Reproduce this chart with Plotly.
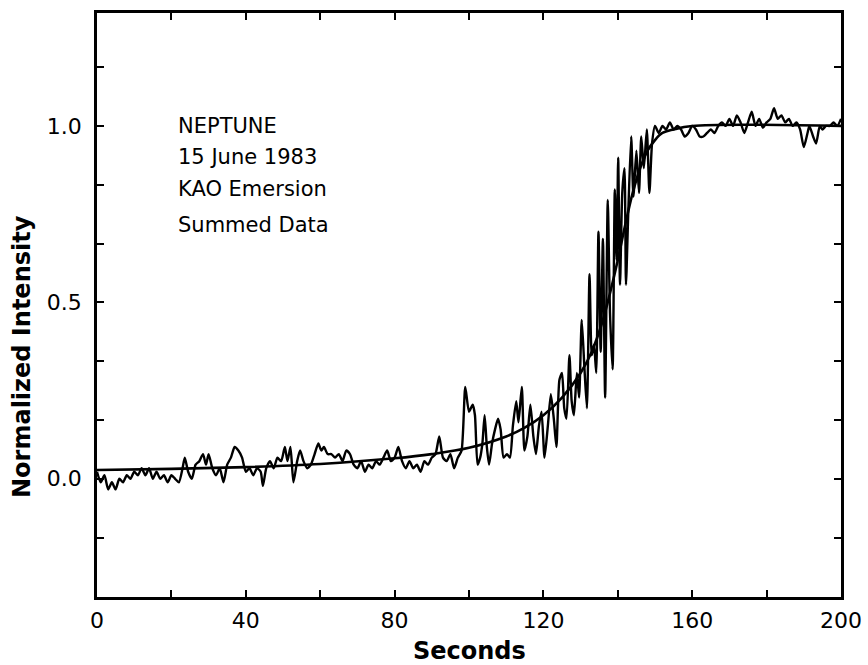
import plotly.graph_objects as go

# Observed (summed) light curve: time in seconds, normalized intensity
obs_t = [0, 1, 2, 3, 4, 5, 6, 7, 8, 9, 10, 11, 12, 13, 14, 15, 16, 17, 18, 19, 20, 21, 22, 23, 23.6,
         24.5, 25.5, 26.5, 27.5, 28.5, 29.3, 30, 31, 32, 33, 34, 35, 36, 37, 38, 39, 40, 41, 42, 43, 44,
         44.6, 45.5, 46.5, 47.5, 48.5, 49.5, 50.5, 51.2, 52, 52.8, 53.8, 54.6, 55.5, 56.5, 57.5, 58.5,
         59.5, 60.3, 61, 62, 63, 64, 65, 66, 67, 68, 69, 70, 71, 72, 73, 74, 75, 76, 77, 78, 79, 80,
         81, 82, 83, 84, 85, 86, 87, 88, 89, 90, 91, 92, 93, 94, 95, 96, 97, 98, 99, 100, 101, 101.6,
         102.3, 103, 103.6, 104.2, 104.8, 105.4, 106.2, 107, 107.8, 108.5, 109.3, 110.2, 111, 111.8,
         112.7, 113.3, 114.2, 114.9, 115.7, 116.5, 117.3, 118, 118.8, 119.5, 120.3, 121.2, 122, 122.8,
         123.5, 124.3, 125, 125.6, 126.2, 127, 127.6, 128.2, 129, 129.6, 130.3, 131, 131.7, 132.4, 133,
         133.6, 134.2, 134.8, 135.4, 136, 136.6, 137.3, 137.9, 138.6, 139.2, 139.7, 140.1, 140.6, 141.2,
         141.8, 142.2, 142.8, 143.6, 144.2, 145.0, 145.7, 146.3, 147, 147.8, 148.5, 149.2, 150, 151, 152,
         153, 154, 155, 156, 157, 158, 159, 160, 161, 162, 163, 164, 165, 166, 167, 168, 169, 170, 171,
         172, 173, 174, 175, 176, 177, 178, 179, 180, 181, 182, 183, 184, 185, 186, 187, 188, 189, 190,
         191, 191.5, 192.5, 193.3, 194.3, 195, 196, 197, 198, 199, 200]
obs_v = [0.02, -0.01, 0.01, -0.03, -0.01, -0.03, 0.0, -0.01, 0.01, 0.0, 0.02, 0.01, 0.03, 0.01, 0.03,
         0.0, 0.02, 0.0, 0.01, -0.01, 0.01, 0.0, -0.01, 0.03, 0.06,
         0.02, 0.0, 0.04, 0.05, 0.07, 0.04, 0.07, 0.03, 0.01, 0.03, -0.01, 0.04, 0.06, 0.09, 0.08, 0.06,
         0.02, 0.03, 0.01, 0.03, 0.02,
         -0.02, 0.03, 0.05, 0.03, 0.06, 0.05, 0.09, 0.05, 0.09, -0.01, 0.05, 0.08, 0.05, 0.03, 0.04, 0.07,
         0.10, 0.08, 0.09, 0.07, 0.07, 0.06, 0.07, 0.05, 0.08, 0.07, 0.04, 0.03, 0.05, 0.02, 0.04, 0.03,
         0.05, 0.04, 0.06, 0.08, 0.05, 0.06,
         0.09, 0.05, 0.03, 0.05, 0.03, 0.04, 0.02, 0.05, 0.04, 0.06, 0.07, 0.12, 0.06, 0.05, 0.07, 0.03,
         0.06, 0.08, 0.26, 0.19, 0.21, 0.18,
         0.04, 0.06, 0.10, 0.18, 0.09, 0.04, 0.10, 0.14, 0.17, 0.14, 0.06, 0.07, 0.06, 0.15,
         0.22, 0.16, 0.26, 0.08, 0.12, 0.21, 0.12, 0.07, 0.15, 0.19, 0.06, 0.15, 0.24, 0.17,
         0.09, 0.28, 0.30, 0.20, 0.17, 0.35, 0.22, 0.18, 0.30, 0.23, 0.45, 0.32, 0.20, 0.58, 0.35,
         0.38, 0.30, 0.70, 0.36, 0.68, 0.23, 0.79, 0.47, 0.31, 0.82, 0.62, 0.91, 0.55, 0.81,
         0.88, 0.55, 0.75, 0.97, 0.80, 0.93, 0.81, 0.97, 0.88, 0.99, 0.81, 0.95, 1.0, 0.98, 1.0,
         0.99, 1.01, 0.99, 1.0, 0.99, 0.97, 0.98, 1.0, 0.99, 0.97, 0.97, 0.98, 0.99, 0.98, 1.0, 1.01, 1.0,
         1.02, 1.0, 1.03, 1.01, 0.98, 1.01, 1.04, 1.0, 1.02, 0.995, 1.01, 1.02, 1.05, 1.02, 1.03, 1.01,
         1.02, 1.0, 1.01, 0.99, 0.94,
         0.98, 1.0, 0.97, 0.95, 1.0, 0.99, 1.0, 1.0, 1.01, 1.0, 1.02]

# Model (smooth) light curve
model_t = [0, 20, 40, 60, 80, 90, 100, 110, 115, 120, 125, 130, 133, 136, 138, 140, 142, 144, 146,
           148, 150, 152, 155, 160, 200]
model_v = [0.025, 0.028, 0.033, 0.042, 0.058, 0.07, 0.088, 0.12, 0.145, 0.18, 0.23, 0.30, 0.36, 0.45,
           0.53, 0.62, 0.72, 0.81, 0.88, 0.93, 0.96, 0.98, 0.99, 1.0, 1.0]

x_tickvals = [0, 20, 40, 60, 80, 100, 120, 140, 160, 180, 200]
x_ticktext = ["0", "", "40", "", "80", "", "120", "", "160", "", "200"]
y_tickvals = [-1/6, 0, 1/6, 2/6, 3/6, 4/6, 5/6, 1.0, 7/6]
y_ticktext = ["", "0.0", "", "", "0.5", "", "", "1.0", ""]

label_lines = ["NEPTUNE", "15 June 1983", "KAO Emersion", "Summed Data"]
label_y = [1.0, 0.912, 0.821, 0.719]

x_title = "Seconds"
y_title = "Normalized Intensity"

FONT = "DejaVu Sans"

fig = go.Figure()
fig.add_trace(go.Scatter(x=obs_t, y=obs_v, mode="lines", line_shape="spline",
                         line=dict(color="black", width=2.4, smoothing=0.6), showlegend=False))
fig.add_trace(go.Scatter(x=model_t, y=model_v, mode="lines", line_shape="spline",
                         line=dict(color="black", width=2.6), showlegend=False))

for txt, yy in zip(label_lines, label_y):
    fig.add_annotation(x=21.3, y=yy, xref="x", yref="y", text=txt, showarrow=False,
                       xanchor="left", yanchor="middle",
                       font=dict(family=FONT, size=21, color="black"))

# axis titles as paper-anchored annotations
fig.add_annotation(x=0.5, y=-0.0925, xref="paper", yref="paper", text="<b>" + x_title + "</b>",
                   showarrow=False, xanchor="center", yanchor="middle",
                   font=dict(family=FONT, size=24, color="black"))
fig.add_annotation(x=-0.1008, y=0.411, xref="paper", yref="paper", text="<b>" + y_title + "</b>",
                   showarrow=False, xanchor="center", yanchor="middle", textangle=-90,
                   font=dict(family=FONT, size=24, color="black"))

axis_common = dict(showline=True, linecolor="black", linewidth=2.5, mirror="ticks",
                   ticks="inside", ticklen=7, tickwidth=2, tickcolor="black",
                   showgrid=False, zeroline=False, automargin=False,
                   tickfont=dict(family=FONT, size=22, color="black"))

fig.update_xaxes(range=[0, 200], tickvals=x_tickvals, ticktext=x_ticktext,
                 ticklabelstandoff=2, **axis_common)
fig.update_yaxes(range=[-0.335, 1.32], tickvals=y_tickvals, ticktext=y_ticktext,
                 ticklabelstandoff=8, **axis_common)

fig.update_layout(width=868, height=665, margin=dict(l=97, r=27, t=13, b=68),
                  plot_bgcolor="white", paper_bgcolor="white")

fig.write_html("out.html")
